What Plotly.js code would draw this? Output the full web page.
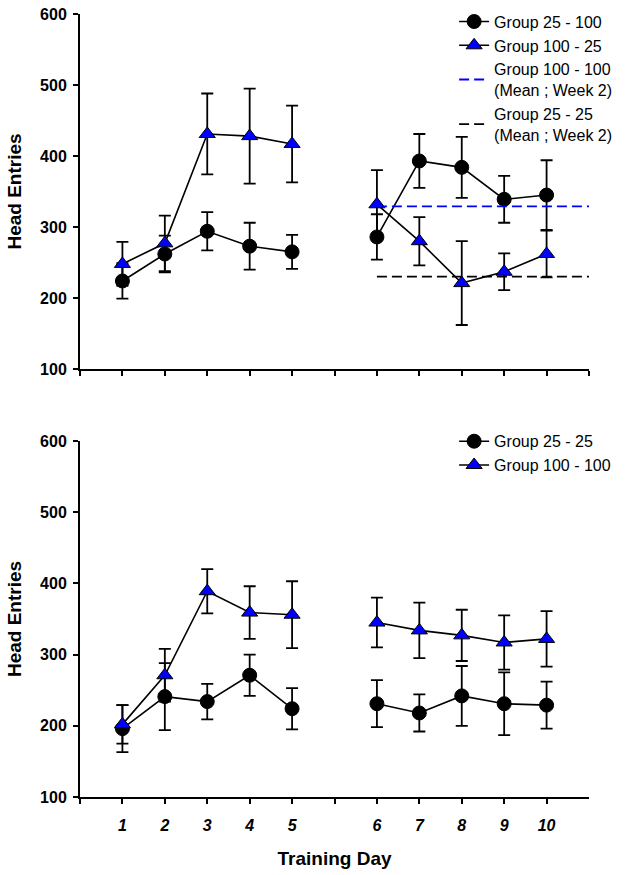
<!DOCTYPE html>
<html>
<head>
<meta charset="utf-8">
<script src="https://cdn.plot.ly/plotly-3.0.1.min.js"></script>
<style>html,body{margin:0;padding:0;background:#fff;}#chart{width:629px;height:875px;}</style>
</head>
<body>
<div id="chart"></div>
<script>
// ---- Data ----
const days = [1, 2, 3, 4, 5, 6, 7, 8, 9, 10];
const dayLabels = ['1', '2', '3', '4', '5', '6', '7', '8', '9', '10'];

// Top panel: switched groups
const g25_100 = [224, 262, 294, 273, 265, 286, 393, 384, 339, 345];
const g25_100Err = [25, 26, 27, 33, 24, 32, 38, 43, 33, 49];
const g100_25 = [248, 277, 431, 428, 417, 332, 280, 221, 237, 262];
const g100_25Err = [31, 39, 57, 67, 54, 48, 34, 59, 26, 33];

// Bottom panel: unshifted groups
const g25_25 = [196, 241, 234, 271, 224, 231, 218, 242, 231, 229];
const g25_25Err = [33, 47, 25, 29, 29, 33, 26, 42, 44, 33];
const g100_100 = [202, 271, 389, 359, 356, 345, 334, 327, 317, 322];
const g100_100Err = [27, 37, 31, 37, 47, 35, 39, 36, 38, 39];

const week2Days = [6, 7, 8, 9, 10];
const yTicks = [100, 200, 300, 400, 500, 600];

// ---- Helpers ----
const X_MAX = 12;
function pos(d) { return d <= 5 ? d : d + 1; }   // gap between week 1 and week 2
function withGap(arr) {                           // break the line between day 5 and day 6
  const out = [];
  days.forEach((d, i) => { if (d === 6) out.push(null); out.push(arr[i]); });
  return out;
}
function weekMean(vals) {
  const v = days.map((d, i) => week2Days.includes(d) ? vals[i] : null).filter(x => x !== null);
  return v.reduce((a, b) => a + b, 0) / v.length;
}
const xPos = withGap(days.map(pos));

const FONT = 'Arial, "Liberation Sans", Helvetica, sans-serif';

function series(name, y, err, isTri, xa, ya, legend) {
  return {
    type: 'scatter', mode: 'lines+markers', name: name,
    x: xPos, y: withGap(y), xaxis: xa, yaxis: ya, legend: legend,
    connectgaps: false,
    line: { color: '#000', width: 1.6 },
    marker: isTri
      ? { symbol: 'triangle-up', size: 14, color: '#0000ff', line: { color: '#000', width: 1 } }
      : { symbol: 'circle', size: 14, color: '#000', line: { color: '#000', width: 1 } },
    error_y: { type: 'data', array: withGap(err), visible: true, color: '#000', thickness: 1.8, width: 6 },
    hoverinfo: 'x+y'
  };
}

const m100 = weekMean(g100_100);
const m25 = weekMean(g25_25);
const meanX = [pos(6), X_MAX];

const traces = [
  series('Group 25 - 100', g25_100, g25_100Err, false, 'x2', 'y', 'legend'),
  series('Group 100 - 25', g100_25, g100_25Err, true, 'x2', 'y', 'legend'),
  { type: 'scatter', mode: 'lines', name: 'Group 100 - 100<br>(Mean ; Week 2)',
    x: meanX, y: [m100, m100], xaxis: 'x2', yaxis: 'y', legend: 'legend',
    line: { color: '#0000ff', width: 1.8, dash: '10px,5px' } },
  { type: 'scatter', mode: 'lines', name: 'Group 25 - 25<br>(Mean ; Week 2)',
    x: meanX, y: [m25, m25], xaxis: 'x2', yaxis: 'y', legend: 'legend',
    line: { color: '#000', width: 1.8, dash: '10px,5px' } },
  series('Group 25 - 25', g25_25, g25_25Err, false, 'x', 'y2', 'legend2'),
  series('Group 100 - 100', g100_100, g100_100Err, true, 'x', 'y2', 'legend2')
];

// tick positions along x
const bottomTickVals = [0, 1, 2, 3, 4, 5, 6, 7, 8, 9, 10, 11];
const bottomTickText = bottomTickVals.map(p => {
  const i = days.findIndex(d => pos(d) === p);
  return i >= 0 ? dayLabels[i] : '';
});
const topTickVals = [0, 1, 2, 3, 4, 5, 6, 7, 8, 9, 10, 11, 12];

const axisCommon = {
  showline: true, linecolor: '#000', linewidth: 2, mirror: false,
  ticks: 'outside', ticklen: 5, tickwidth: 2, tickcolor: '#000',
  showgrid: false, zeroline: false, fixedrange: true
};

const yCommon = Object.assign({}, axisCommon, {
  range: [100, 600], tickvals: yTicks, ticktext: yTicks.map(String),
  tickfont: { family: FONT, size: 16, weight: 'bold', color: '#000' },
  ticklabelstandoff: 3,
  title: { text: 'Head Entries', font: { family: FONT, size: 19, weight: 'bold', color: '#000' }, standoff: 13 },
  automargin: false
});

const layout = {
  width: 629, height: 875,
  margin: { l: 80, r: 40, t: 14, b: 78, autoexpand: false },
  paper_bgcolor: '#fff', plot_bgcolor: 'rgba(0,0,0,0)',
  font: { family: FONT, color: '#000' },
  showlegend: true,
  xaxis: Object.assign({}, axisCommon, {
    domain: [0, 1], anchor: 'y2', range: [0, X_MAX],
    tickmode: 'array', tickvals: bottomTickVals, ticktext: bottomTickText,
    tickfont: { family: FONT, size: 16, weight: 'bold', style: 'italic', color: '#000' },
    ticklabelstandoff: 8,
    title: { text: 'Training Day', font: { family: FONT, size: 19, weight: 'bold', color: '#000' }, standoff: 18 },
    automargin: false
  }),
  xaxis2: Object.assign({}, axisCommon, {
    domain: [0, 1], anchor: 'y', range: [0, X_MAX],
    tickmode: 'array', tickvals: topTickVals, showticklabels: false
  }),
  yaxis: Object.assign({}, yCommon, { domain: [0.5466, 1], anchor: 'x2' }),
  yaxis2: Object.assign({}, yCommon, { domain: [0, 0.4547], anchor: 'x' }),
  legend: {
    x: 0.735, xanchor: 'left', y: 1.012, yanchor: 'top',
    bgcolor: 'rgba(0,0,0,0)', borderwidth: 0,
    font: { family: FONT, size: 16, color: '#000' },
    traceorder: 'normal', itemwidth: 30, tracegroupgap: 0
  },
  legend2: {
    x: 0.735, xanchor: 'left', y: 0.476, yanchor: 'top',
    bgcolor: 'rgba(0,0,0,0)', borderwidth: 0,
    font: { family: FONT, size: 16, color: '#000' },
    traceorder: 'normal', itemwidth: 30, tracegroupgap: 0
  }
};

Plotly.newPlot('chart', traces, layout, { displayModeBar: false, staticPlot: true });
</script>
</body>
</html>
